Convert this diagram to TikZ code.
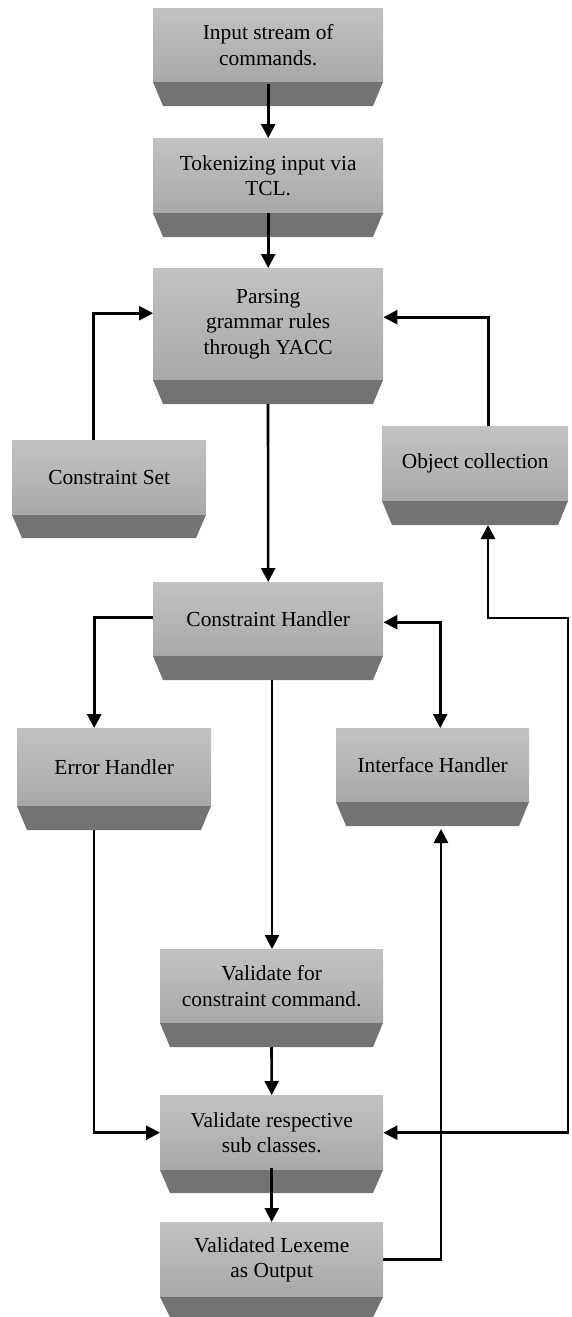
\documentclass[tikz,border=0pt]{standalone}
\usepackage{fontspec}
\setmainfont{Liberation Serif}
\usetikzlibrary{arrows.meta,calc}
\definecolor{boxtop}{RGB}{194,194,194}
\definecolor{boxbot}{RGB}{168,168,168}
\definecolor{trapc}{RGB}{115,115,115}
\newcommand\plaquebox[7]{%
  \pgfmathsetmacro\pw{#3-#2}\pgfmathsetmacro\ph{#5-#4}%
  \node[plaque,minimum width=\pw pt,minimum height=\ph pt,anchor=north west] (#1) at (#2,-#4) {#7};
  \fill[trapc] (#2,-#5) -- (#3,-#5) -- ({#3-10},-#6) -- ({#2+10},-#6) -- cycle;
  \coordinate (#1-b) at ({(#2+#3)/2},-#6);}
\tikzset{
  plaque/.style={draw=none,top color=boxtop,bottom color=boxbot,inner sep=0pt,
    align=center,text=black,font=\fontsize{21.4}{25.5}\selectfont},
  conn/.style={line width=2.6pt,line join=miter,-{Triangle[length=14pt,width=14pt]}},
  conntwo/.style={line width=2.6pt,line join=miter,{Triangle[length=14pt,width=14pt]}-{Triangle[length=14pt,width=14pt]}}
}
\begin{document}
\begin{tikzpicture}[x=1pt,y=1pt]
\useasboundingbox (0,0) rectangle (571,-1317);
\plaquebox{in}{153}{383}{8}{82}{106}{Input stream of\\commands.}
\plaquebox{tok}{153}{383}{138}{213}{237}{Tokenizing input via\\TCL.}
\plaquebox{parse}{153}{383}{268}{380}{404}{Parsing\\grammar rules\\through YACC}
\plaquebox{cset}{12}{206}{440}{515}{538}{Constraint Set}
\plaquebox{objc}{382}{568}{426}{501}{525}{Object collection}
\plaquebox{ch}{153}{383}{582}{656}{680}{Constraint Handler}
\plaquebox{eh}{17}{211}{728}{806}{830}{Error Handler}
\plaquebox{ih}{336}{529}{728}{802}{826}{Interface Handler}
\plaquebox{vfor}{160}{383}{949}{1023}{1047}{Validate for\\constraint command.}
\plaquebox{vsub}{160}{383}{1095}{1170}{1193}{Validate respective\\sub classes.}
\plaquebox{vlex}{160}{383}{1222}{1297}{1317}{Validated Lexeme\\as Output}
\coordinate (rt) at (568,-618);
\draw[conn] ([yshift=-2pt]in.south) -- (tok.north);
\draw[conn] (tok.south) -- (parse.north);
\draw[conn] ([xshift=-16pt]cset.north) |- ([yshift=11pt]parse.west);
\draw[conn] ([xshift=13pt]objc.north) |- ([yshift=7pt]parse.east);
\draw[conn] (parse-b) -- (ch.north);
\draw[conn] ([yshift=2pt]ch.west) -| ([xshift=-20pt]eh.north);
\draw[conntwo] ([yshift=-3pt]ch.east) -| ([xshift=7.5pt]ih.north);
\draw[conn] ([xshift=4pt]ch-b) -- ([xshift=4pt]ch-b |- vfor.north);
\draw[conn] (vfor-b) -- (vsub.north);
\draw[conn] ([yshift=2pt]vsub.south) -- (vlex.north);
\draw[conn] ([xshift=-20pt]eh-b) |- (vsub.west);
\draw[conn] (vlex.east) -| ([xshift=8.5pt,yshift=-3pt]ih-b);
\draw[conntwo] ([xshift=13pt]objc-b) |- (rt) |- (vsub.east);
\end{tikzpicture}
\end{document}
